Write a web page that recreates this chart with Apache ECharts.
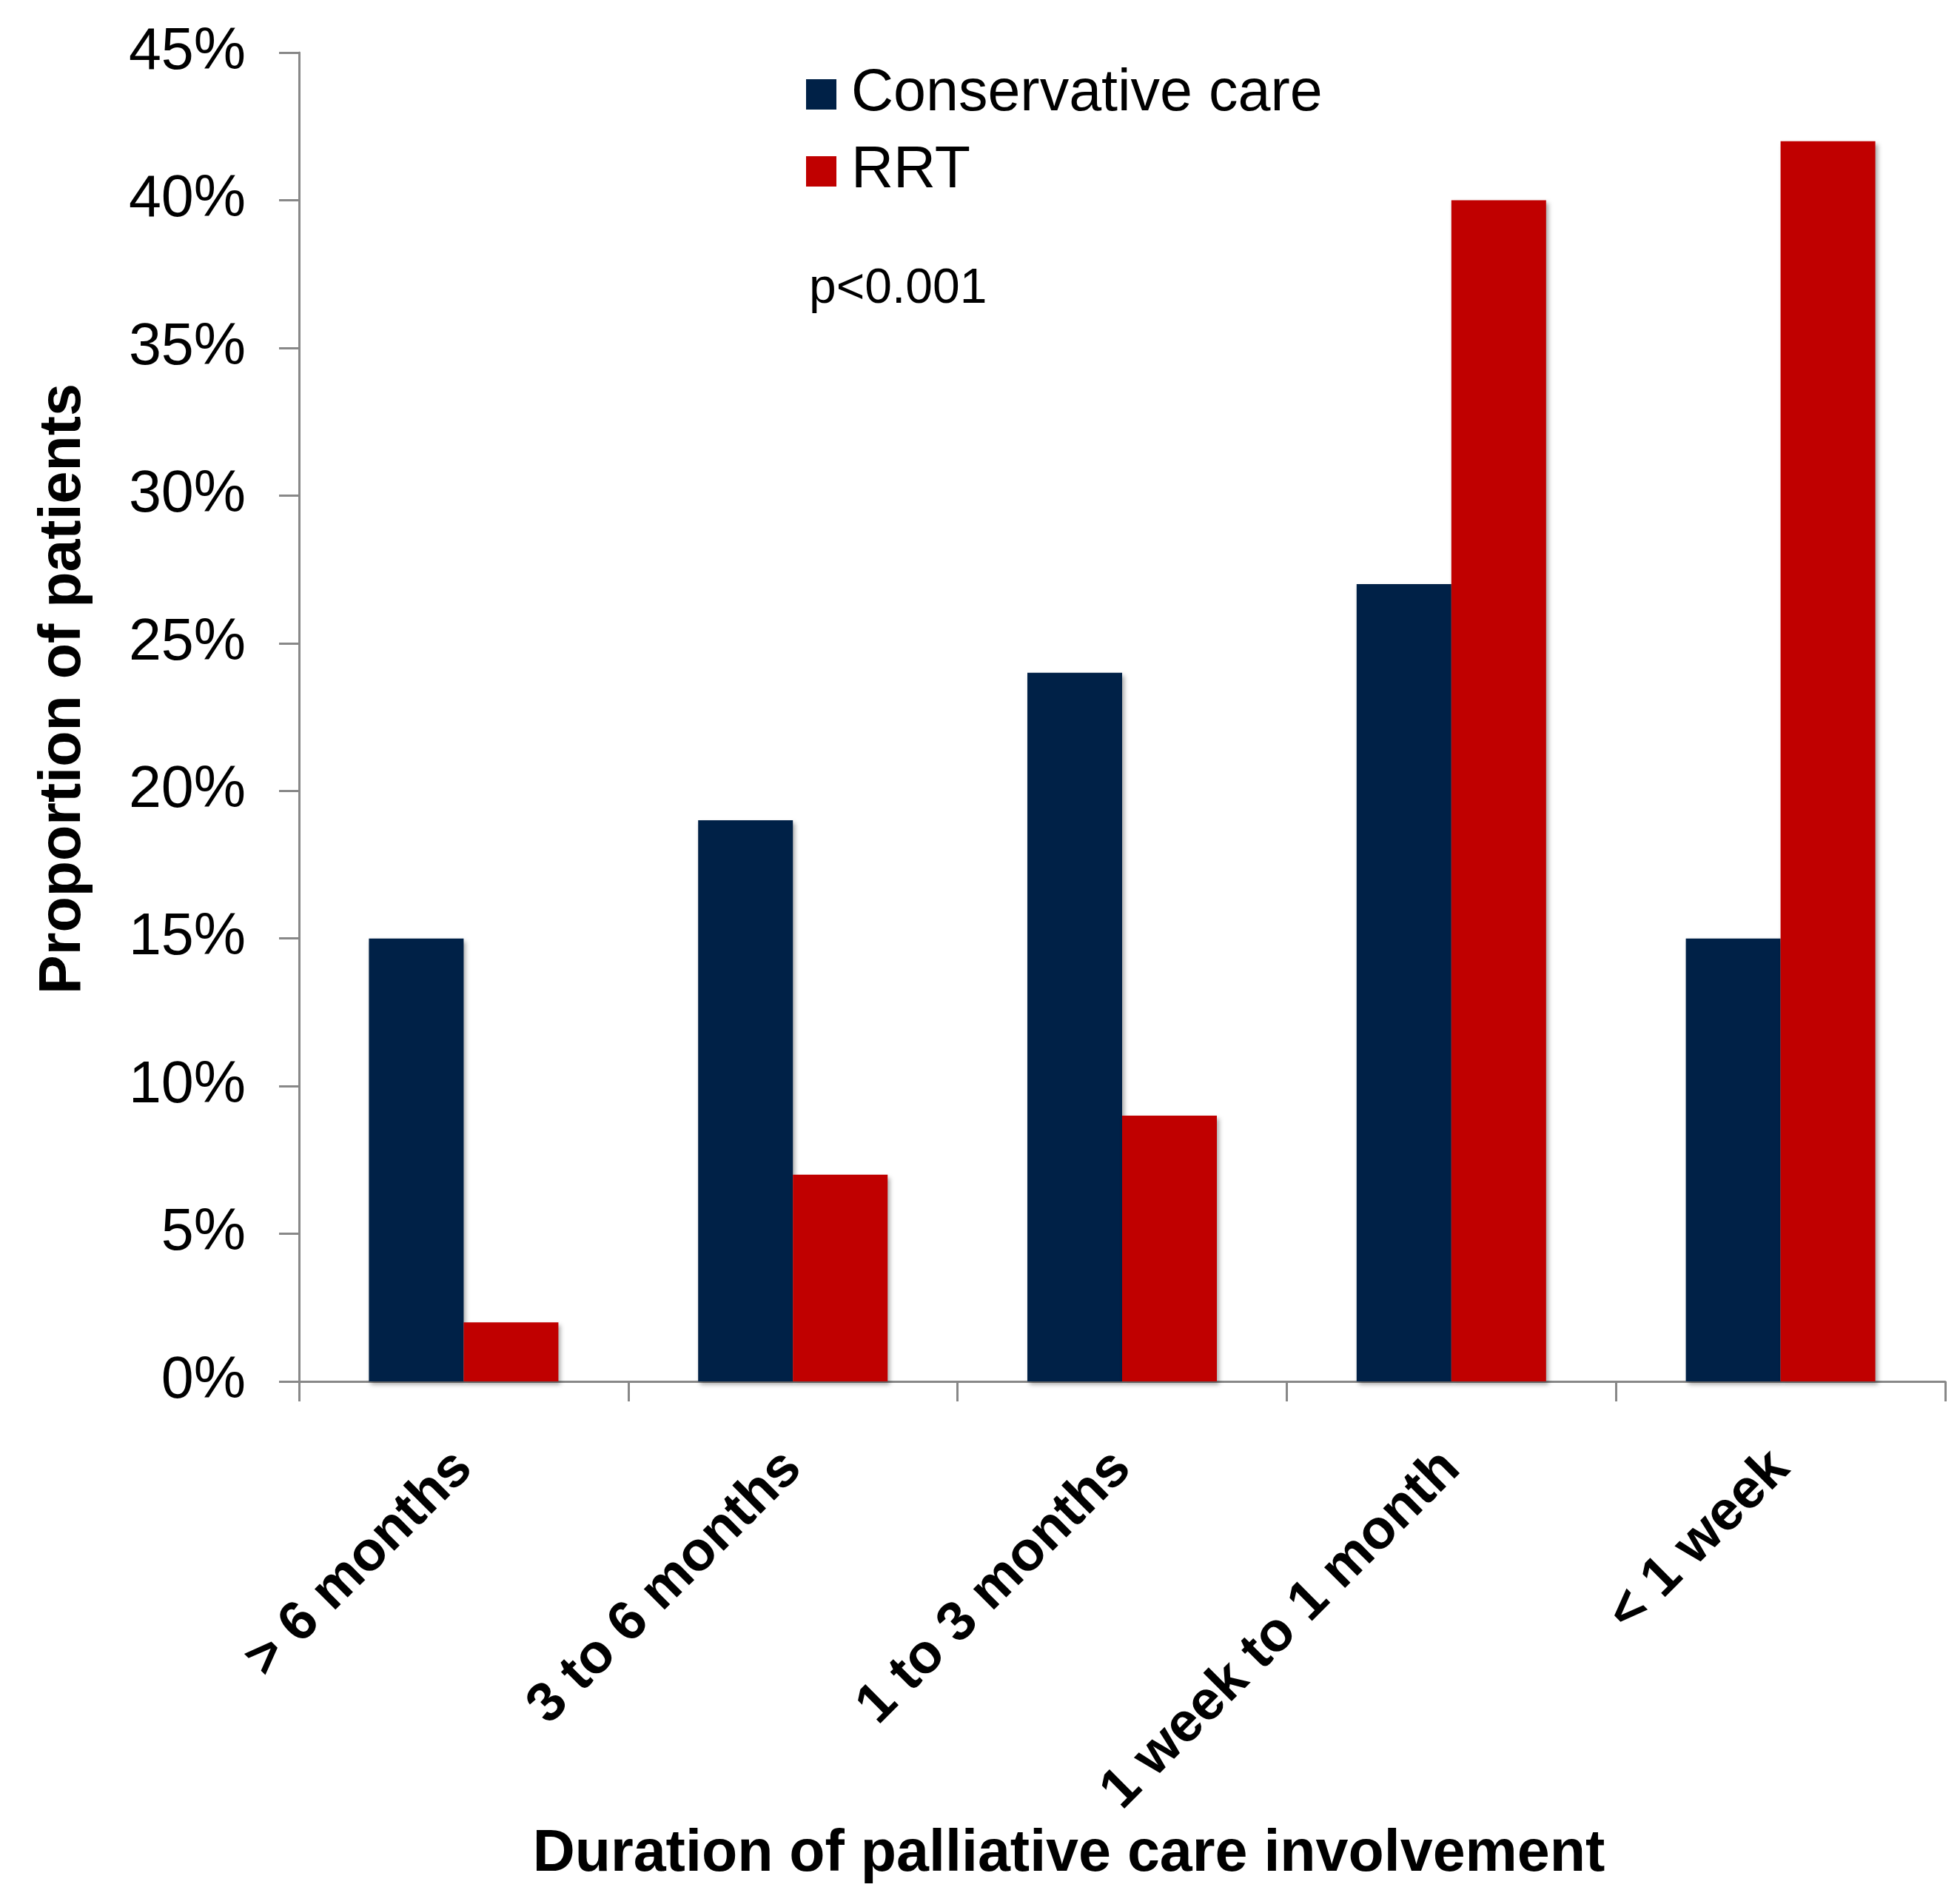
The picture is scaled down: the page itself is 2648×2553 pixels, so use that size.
<!DOCTYPE html>
<html>
<head>
<meta charset="utf-8">
<script src="https://cdn.jsdelivr.net/npm/echarts@6/dist/echarts.min.js"></script>
<style>
  html, body { margin: 0; padding: 0; background: #fff; }
  #chart { width: 2648px; height: 2553px; }
</style>
</head>
<body>
<div id="chart"></div>
<script>
const categories = ['> 6 months', '3 to 6 months', '1 to 3 months', '1 week to 1 month', '< 1 week']
const conservative = [15, 19, 24, 27, 15]
const rrt = [2, 7, 9, 40, 42]
const seriesNames = ['Conservative care', 'RRT']
const pNote = 'p<0.001'

const font = 'Liberation Sans, Arial, sans-serif'
const axisGrey = '#888888'
const barShadow = {
  shadowColor: 'rgba(0, 0, 0, 0.35)',
  shadowBlur: 6,
  shadowOffsetX: 3,
  shadowOffsetY: 4
}

const chart = echarts.init(document.getElementById('chart'))
const option = {
  animation: false,
  backgroundColor: '#fff',
  color: ['#002147', '#C00000'],
  textStyle: { fontFamily: font },
  grid: {
    left: 404,
    right: 20,
    top: 71,
    bottom: 687,
    containLabel: false,
    outerBoundsMode: 'none'
  },
  legend: {
    orient: 'vertical',
    left: 1084,
    top: 83,
    itemWidth: 41,
    itemHeight: 41,
    itemGap: 25,
    icon: 'rect',
    data: seriesNames,
    textStyle: {
      fontFamily: font,
      fontSize: 79,
      lineHeight: 78,
      color: '#000',
      padding: [0, 0, 0, 15]
    }
  },
  xAxis: {
    type: 'category',
    data: categories,
    name: 'Duration of palliative care involvement',
    nameLocation: 'middle',
    nameGap: 597,
    nameTextStyle: {
      fontFamily: font,
      fontSize: 79,
      fontWeight: 'bold',
      color: '#000',
      padding: [0, 144, 0, 0]
    },
    axisLine: { lineStyle: { color: axisGrey, width: 3 } },
    axisTick: { show: true, length: 27, lineStyle: { color: axisGrey, width: 3 } },
    axisLabel: {
      rotate: 45,
      margin: 106,
      interval: 0,
      fontFamily: font,
      fontSize: 75,
      fontWeight: 'bold',
      color: '#000'
    },
    splitLine: { show: false }
  },
  yAxis: {
    type: 'value',
    min: 0,
    max: 45,
    interval: 5,
    name: 'Proportion of patients',
    nameLocation: 'middle',
    nameGap: 278,
    nameTextStyle: {
      fontFamily: font,
      fontSize: 79,
      fontWeight: 'bold',
      color: '#000',
      padding: [0, 0, 0, 76]
    },
    axisLine: { show: true, lineStyle: { color: axisGrey, width: 3 } },
    axisTick: { show: true, length: 27, lineStyle: { color: axisGrey, width: 3 } },
    axisLabel: {
      formatter: '{value}%',
      margin: 72,
      fontFamily: font,
      fontSize: 79,
      color: '#000'
    },
    splitLine: { show: false }
  },
  graphic: [
    {
      type: 'text',
      left: 1093,
      top: 358,
      style: {
        text: pNote,
        fontFamily: font,
        fontSize: 66,
        fill: '#000'
      }
    }
  ],
  series: [
    {
      name: seriesNames[0],
      type: 'bar',
      data: conservative,
      barWidth: 128,
      barGap: '0%',
      itemStyle: Object.assign({ color: '#002147' }, barShadow)
    },
    {
      name: seriesNames[1],
      type: 'bar',
      data: rrt,
      barWidth: 128,
      barGap: '0%',
      itemStyle: Object.assign({ color: '#C00000' }, barShadow)
    }
  ]
}
chart.setOption(option)
</script>
</body>
</html>
